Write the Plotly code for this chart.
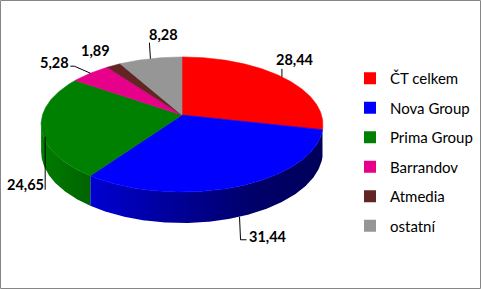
import numpy as np
import plotly.graph_objects as go

# ---------------- data ----------------
categories = ["ČT celkem", "Nova Group", "Prima Group", "Barrandov", "Atmedia", "ostatní"]
values = [28.44, 31.44, 24.65, 5.28, 1.89, 8.28]
value_labels = ["28,44", "31,44", "24,65", "5,28", "1,89", "8,28"]

# ---------------- style ----------------
top_colors = ["#FF0000", "#0000FF", "#008000", "#E6008A", "#632523", "#969696"]
side_scales = [
    [[0, "#C80000"], [1, "#7A0000"]],
    [[0, "#0000D2"], [0.35, "#00009A"], [0.7, "#00006A"], [1, "#00005A"]],
    [[0, "#007C00"], [1, "#006400"]],
    [[0, "#B0006A"], [1, "#80004E"]],
    [[0, "#4A1A1A"], [1, "#3A1212"]],
    [[0, "#7A7A7A"], [1, "#606060"]],
]
W, H_FIG = 481, 289
CX, CY = 182.0, 115.0        # pie vertex on screen
A, B = 139.5, 66.2           # horizontal / depth radius (screen)
K = 0.1407                   # perspective factor
DEPTH = 26.6                 # thickness of the pie (screen px)
FONT = "Lato"

# label placement per slice: anchor kind, leader path offsets, label offset
label_style = [
    ("top",  [(0, 0), (0, -8)],              (13, -17)),
    ("bot",  [(0, 0), (1, 23), (7, 23)],     (28, 20)),
    ("top",  [(4, 10), (4, 63)],             (-16, 58)),
    ("top",  [(0, 0), (-16, -7), (-20, -7)], (-36, -11)),
    ("top",  [],                             (-18.5, -14.5)),
    ("top",  [(0, 0), (-1, -16)],            (12.6, -24)),
]


def proj(theta_deg, drop=0.0):
    t = np.radians(theta_deg)
    X, Z = np.sin(t), np.cos(t)
    d = 1 + K * Z
    return CX + A * X / d, CY - B * Z / d + drop / d


total = float(sum(values))
cum = np.concatenate([[0], np.cumsum(values)]) / total * 360.0
T_L = np.degrees(np.arccos(-K))
T_R = 360.0 - T_L

fig = go.Figure()

# side walls (front part only)
for i in range(len(values)):
    t1, t2 = max(cum[i], T_L), min(cum[i + 1], T_R)
    if t2 <= t1:
        continue
    th = np.linspace(t1, t2, max(int((t2 - t1) * 2), 2))
    xt, yt = proj(th)
    xb, yb = proj(th[::-1], DEPTH)
    fig.add_trace(go.Scatter(
        x=np.concatenate([xt, xb, xt[:1]]), y=np.concatenate([yt, yb, yt[:1]]),
        mode="lines", line=dict(width=0), fill="toself",
        fillgradient=dict(type="horizontal", colorscale=side_scales[i]),
        hoverinfo="skip", showlegend=False))

# top faces
for i in range(len(values)):
    th = np.linspace(cum[i], cum[i + 1], max(int((cum[i + 1] - cum[i]) * 2), 2))
    xt, yt = proj(th)
    fig.add_trace(go.Scatter(
        x=np.concatenate([[CX], xt, [CX]]), y=np.concatenate([[CY], yt, [CY]]),
        mode="lines", line=dict(width=0.6, color=top_colors[i]), fill="toself",
        fillcolor=top_colors[i], hoverinfo="skip", showlegend=False))

# data labels with leader lines
lx, ly = [], []
for i in range(len(values)):
    mid = (cum[i] + cum[i + 1]) / 2
    kind, path, off = label_style[i]
    ax, ay = proj(mid, DEPTH if kind == "bot" else 0.0)
    if path:
        for dx, dy in path:
            lx.append(ax + dx)
            ly.append(ay + dy)
        lx.append(None)
        ly.append(None)
    fig.add_annotation(x=ax + off[0], y=ay + off[1], text=value_labels[i],
                       showarrow=False, xanchor="center", yanchor="middle",
                       font=dict(family=FONT, size=14.5, color="#000000", weight="bold"))
fig.add_trace(go.Scatter(x=lx, y=ly, mode="lines", line=dict(color="#000000", width=1),
                         hoverinfo="skip", showlegend=False))

# legend entries
for i, c in enumerate(categories):
    fig.add_trace(go.Scatter(x=[None], y=[None], mode="markers", name=c,
                             legendgroup=c,
                             marker=dict(symbol="square", size=9, color=top_colors[i])))

fig.add_shape(type="rect", x0=0.5, x1=W - 0.5, y0=0.5, y1=H_FIG - 0.5,
              line=dict(color="#868686", width=1), layer="above")

fig.update_layout(
    width=W, height=H_FIG, margin=dict(l=0, r=0, t=0, b=0),
    paper_bgcolor="white", plot_bgcolor="white",
    xaxis=dict(range=[0, W], visible=False, fixedrange=True),
    yaxis=dict(range=[H_FIG, 0], visible=False, fixedrange=True),
    legend=dict(x=350 / W, y=1 - 62 / H_FIG, xanchor="left", yanchor="top",
                font=dict(family=FONT, size=15, color="#000000"),
                tracegroupgap=7, bgcolor="rgba(0,0,0,0)", itemsizing="constant"),
    showlegend=True,
)

fig.write_html("out.html")
